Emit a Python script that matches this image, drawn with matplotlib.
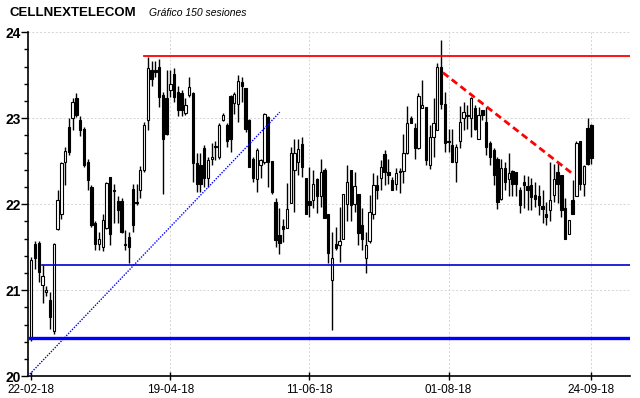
import numpy as np
import matplotlib
matplotlib.use('Agg')
import matplotlib.pyplot as plt

plt.rcParams['font.family'] = ['Liberation Sans', 'DejaVu Sans']

# OHLC de las 150 sesiones (22-02-18 .. 24-09-18)
opens = [20.43, 21.54, 21.55, 21.06, 20.98, 20.88, 20.53, 21.71, 21.89, 22.49,
         22.90, 23.00, 23.23, 22.98, 22.87, 22.49, 22.20, 21.78, 21.54, 21.50,
         21.72, 22.32, 22.17, 22.04, 22.04, 21.54, 21.62, 22.18, 22.03, 22.16,
         22.40, 22.98, 23.56, 23.56, 23.59, 23.27, 23.23, 23.33, 23.51, 23.31,
         23.29, 23.06, 23.27, 23.29, 22.48, 22.46, 22.65, 22.30, 22.52, 22.67,
         22.55, 22.98, 22.92, 23.26, 23.18, 23.16, 23.42, 23.35, 22.98, 22.52,
         22.29, 22.45, 22.49, 23.01, 22.50, 22.03, 21.64, 21.75, 21.72, 22.01,
         22.40, 22.49, 22.70, 22.30, 22.04, 22.05, 22.29, 22.10, 22.40, 21.89,
         21.12, 21.54, 21.53, 21.60, 22.00, 22.40, 22.00, 22.12, 21.76, 21.37,
         21.57, 21.89, 22.22, 22.30, 22.58, 22.38, 22.28, 22.24, 22.39, 22.39,
         22.60, 23.00, 22.89, 22.65, 23.12, 23.13, 22.46, 22.78, 22.86, 23.60,
         23.17, 22.74, 22.69, 22.49, 22.74, 23.00, 23.04, 23.00, 23.12, 22.76,
         23.09, 22.96, 22.71, 22.63, 22.53, 22.06, 22.42, 22.29, 22.39, 22.37,
         22.17, 22.26, 22.21, 22.22, 22.11, 22.10, 21.98, 21.89, 21.93, 22.11,
         22.38, 22.34, 21.95, 21.65, 22.05, 22.10, 22.73, 22.24, 22.89, 22.92]
highs = [21.38, 21.57, 21.57, 21.29, 21.05, 20.98, 21.55, 22.17, 22.49, 22.67,
         23.00, 23.23, 23.29, 23.03, 22.90, 22.53, 22.22, 21.80, 21.68, 21.89,
         22.26, 22.32, 22.24, 22.09, 22.07, 21.70, 21.68, 22.24, 22.24, 22.44,
         22.96, 23.71, 23.67, 23.67, 23.69, 23.31, 23.56, 23.56, 23.58, 23.38,
         23.33, 23.23, 23.48, 23.31, 22.59, 22.59, 22.69, 22.55, 22.71, 22.73,
         22.94, 23.06, 22.94, 23.27, 23.31, 23.50, 23.48, 23.35, 22.99, 22.55,
         22.65, 22.53, 23.06, 23.02, 22.50, 22.07, 21.95, 21.83, 22.25, 22.67,
         22.76, 22.76, 22.78, 22.30, 22.43, 22.40, 22.30, 22.53, 22.42, 21.89,
         21.68, 21.73, 21.97, 22.12, 22.45, 22.40, 22.37, 22.12, 21.95, 21.68,
         22.11, 22.36, 22.34, 22.51, 22.63, 22.53, 22.32, 22.42, 22.42, 22.82,
         23.14, 23.03, 22.94, 23.29, 23.45, 23.13, 22.92, 23.23, 23.64, 23.91,
         23.31, 22.88, 22.88, 22.70, 23.14, 23.19, 23.15, 23.25, 23.15, 23.13,
         23.10, 23.13, 22.74, 22.65, 22.55, 22.53, 22.49, 22.59, 22.40, 22.38,
         22.20, 22.34, 22.33, 22.30, 22.26, 22.22, 22.16, 22.03, 22.49, 22.47,
         22.49, 22.34, 22.07, 21.82, 22.28, 22.74, 22.74, 22.45, 23.00, 22.93]
lows = [20.41, 21.25, 21.10, 20.85, 20.93, 20.55, 20.49, 21.70, 21.83, 22.22,
        22.57, 22.86, 23.01, 22.79, 22.43, 22.16, 21.74, 21.47, 21.47, 21.45,
        21.71, 21.52, 21.78, 21.78, 21.66, 21.47, 21.31, 21.68, 21.99, 22.07,
        22.38, 22.86, 23.38, 23.48, 23.13, 22.12, 22.80, 23.25, 23.19, 23.02,
        23.02, 23.04, 23.25, 22.26, 22.14, 22.14, 22.20, 22.20, 22.45, 22.51,
        22.52, 22.97, 22.67, 22.61, 23.05, 22.96, 23.19, 22.84, 22.43, 22.26,
        22.14, 22.30, 22.47, 22.20, 22.12, 21.50, 21.42, 21.56, 21.72, 22.01,
        21.91, 22.34, 22.32, 21.89, 21.85, 21.95, 21.90, 21.97, 21.84, 21.31,
        20.54, 21.47, 21.33, 21.59, 21.81, 21.81, 21.91, 21.52, 21.47, 21.20,
        21.55, 21.83, 22.06, 22.16, 22.22, 22.23, 22.17, 22.16, 22.13, 22.25,
        22.58, 22.94, 22.53, 22.64, 23.12, 22.45, 22.41, 22.55, 22.86, 23.11,
        22.61, 22.61, 22.49, 22.26, 22.65, 22.86, 22.87, 22.78, 22.86, 22.76,
        22.98, 22.57, 22.45, 22.22, 21.94, 22.05, 22.16, 22.10, 22.10, 22.09,
        21.90, 21.96, 21.93, 21.93, 21.97, 21.87, 21.78, 21.76, 21.81, 22.03,
        22.01, 21.85, 21.60, 21.65, 21.89, 22.10, 22.16, 22.10, 22.46, 22.47]
closes = [21.35, 21.37, 21.21, 21.16, 21.00, 20.69, 21.54, 22.05, 22.48, 22.62,
          22.61, 23.19, 23.04, 22.86, 22.45, 22.28, 21.76, 21.54, 21.60, 21.82,
          22.25, 21.65, 22.15, 21.93, 21.68, 21.52, 21.50, 21.76, 22.01, 22.40,
          22.92, 23.58, 23.46, 23.54, 23.25, 22.76, 22.82, 23.40, 23.25, 23.09,
          23.09, 23.15, 23.36, 22.48, 22.24, 22.24, 22.30, 22.51, 22.55, 22.66,
          22.92, 23.04, 22.74, 22.76, 23.28, 23.43, 23.37, 22.88, 22.43, 22.30,
          22.63, 22.51, 23.05, 22.49, 22.14, 21.58, 21.55, 21.71, 21.94, 22.60,
          22.59, 22.64, 22.43, 21.89, 21.99, 22.23, 22.09, 22.38, 21.84, 21.43,
          21.37, 21.49, 21.57, 22.12, 22.26, 21.99, 22.21, 21.66, 21.60, 21.53,
          21.91, 22.22, 22.17, 22.43, 22.37, 22.34, 22.17, 22.36, 22.37, 22.60,
          22.94, 22.95, 22.65, 23.26, 23.15, 22.51, 22.78, 22.94, 23.59, 23.17,
          22.71, 22.72, 22.49, 22.67, 22.96, 23.07, 23.02, 23.23, 22.88, 23.04,
          23.04, 22.66, 22.55, 22.34, 22.03, 22.42, 22.26, 22.36, 22.23, 22.23,
          21.99, 22.22, 22.17, 22.08, 22.06, 21.99, 21.94, 21.85, 22.05, 22.29,
          22.23, 21.93, 21.60, 21.82, 21.89, 22.71, 22.23, 22.44, 22.47, 22.54]

date_labels = ['22-02-18', '19-04-18', '11-06-18', '01-08-18', '24-09-18']
date_idx = [0, 37, 74, 111, 149]

resistencia = 23.72          # linea roja horizontal
soporte = 20.44              # linea azul gruesa
soporte2 = 21.29             # linea azul fina
directriz_alcista = ([-0.9, 66.1], [20.0, 23.07])
directriz_bajista = ([109.5, 144.1], [23.53, 22.35])

o = np.array(opens)
h = np.array(highs)
l = np.array(lows)
c = np.array(closes)
x = np.arange(len(o))

fig = plt.figure(figsize=(6.4, 3.98), dpi=100)
ax = fig.add_axes([0.043, 0.055, 0.941, 0.864])
xmin, xmax = -1.0, 159.2
ax.set_xlim(xmin, xmax)
ax.set_ylim(20, 24)

# rejilla punteada
for yv in [21, 22, 23, 24]:
    ax.axhline(yv, color='#d4d4d4', lw=0.7, ls=(0, (2, 2)), zorder=0)
for xv in date_idx[1:]:
    ax.axvline(xv, color='#d4d4d4', lw=0.7, ls=(0, (2, 2)), zorder=0)

# velas
ax.vlines(x, l, h, color='black', lw=1, zorder=2)
sube = c >= o
cuerpo = np.maximum(np.abs(c - o), 0.02)
ax.bar(x, cuerpo, bottom=np.minimum(o, c), width=0.62,
       color=np.where(sube, 'white', 'black'), edgecolor='black', lw=0.8, zorder=3)

# lineas de analisis
ax.plot([30, xmax], [resistencia, resistencia], color='red', lw=1.3, zorder=4)
ax.plot([-0.3, xmax], [soporte, soporte], color='#0000ff', lw=2.4, zorder=4)
ax.plot([2.9, xmax], [soporte2, soporte2], color='#0000cc', lw=1.2, zorder=4)
ax.plot(*directriz_alcista, color='#0000ff', lw=1, ls=(0, (1, 1)), zorder=4)
ax.plot(*directriz_bajista, color='red', lw=2, ls=(0, (2.5, 1.5)), zorder=4)

ax.spines['top'].set_visible(False)
ax.spines['right'].set_visible(False)
ax.spines['left'].set_linewidth(1.2)
ax.spines['bottom'].set_linewidth(1.2)

ax.set_yticks([20, 21, 22, 23, 24])
ax.set_yticklabels(['20', '21', '22', '23', '24'], fontweight='bold', fontsize=10)
ax.set_yticks(np.arange(20, 24.01, 0.2), minor=True)
ax.tick_params(axis='y', which='major', direction='out', length=5, width=1, pad=0)
ax.tick_params(axis='y', which='minor', direction='out', length=3, width=1)
ax.set_xticks(date_idx)
ax.set_xticklabels(date_labels, fontsize=8.5)
ax.tick_params(axis='x', direction='inout', length=6, width=1, pad=3)

fig.text(10 / 640, 1 - 16 / 398, 'CELLNEXTELECOM', fontsize=9.5, fontweight='bold')
fig.text(149 / 640, 1 - 16 / 398, 'Gráfico 150 sesiones', fontsize=7.5, style='italic')

plt.savefig('out.png', dpi=100)
